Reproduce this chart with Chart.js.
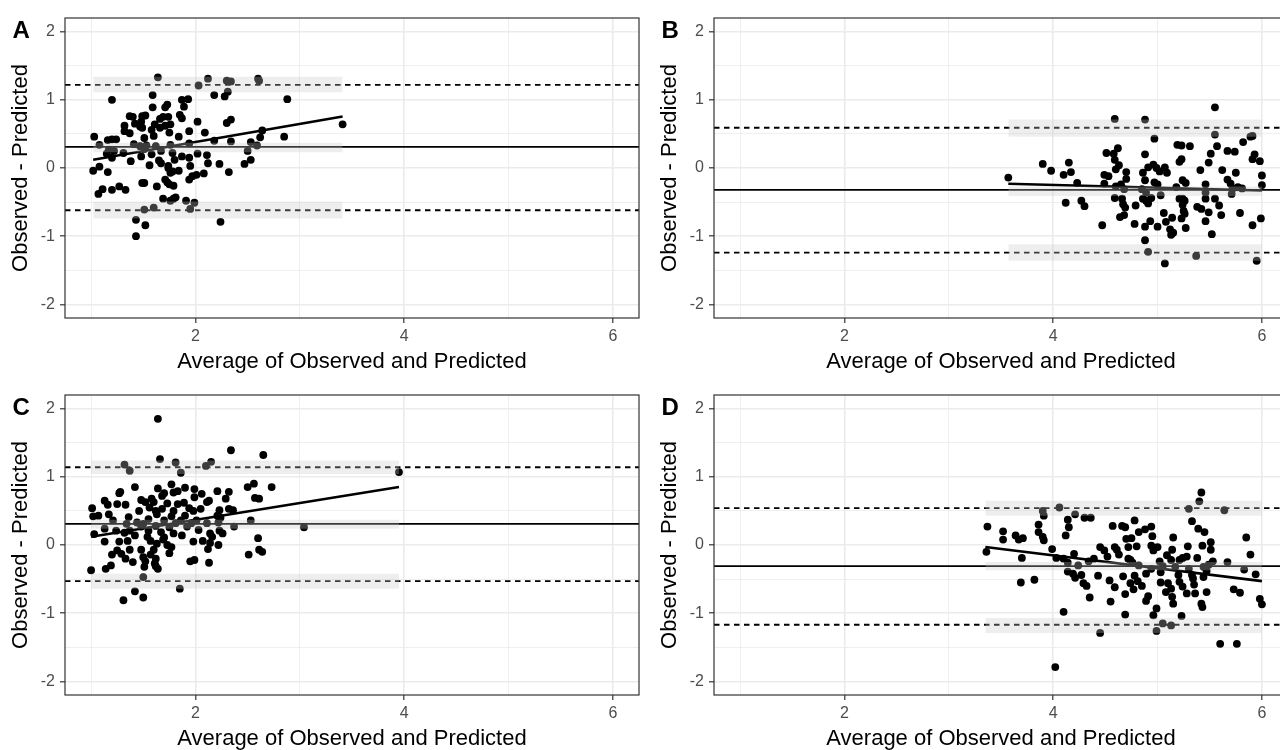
<!DOCTYPE html>
<html>
<head>
<meta charset="utf-8">
<script src="https://cdn.jsdelivr.net/npm/chart.js@4.4.1/dist/chart.umd.min.js"></script>
<style>
  html, body { margin: 0; padding: 0; background: #fff; overflow: hidden; width: 1280px; height: 750px; }
  .panel { position: absolute; width: 649px; height: 378px; }
</style>
</head>
<body>
<div class="panel" style="left:0;top:0"><canvas id="panelA" width="649" height="378"></canvas></div>
<div class="panel" style="left:649px;top:0"><canvas id="panelB" width="649" height="378"></canvas></div>
<div class="panel" style="left:0;top:377px"><canvas id="panelC" width="649" height="378"></canvas></div>
<div class="panel" style="left:649px;top:377px"><canvas id="panelD" width="649" height="378"></canvas></div>
<script>
// axis setup shared by the four panels
var xRange = [0.75, 6.25];
var yRange = [-2.2, 2.2];
var xTicks = [2, 4, 6];
var xGrid = [1, 2, 3, 4, 5, 6];
var yTicks = [-2, -1, 0, 1, 2];
var yGrid = [-2, -1.5, -1, -0.5, 0, 0.5, 1, 1.5, 2];
var xTitle = 'Average of Observed and Predicted';
var yTitle = 'Observed - Predicted';

// points: [average, difference]
var pointsA = [[1.64,1.33],[2.12,1.31],[2.30,1.28],[2.34,1.27],[2.60,1.31],[2.61,1.28],[2.03,1.21],[2.31,1.12],[1.59,1.07],[2.18,1.07],[2.28,1.05],[1.20,1.00],[2.88,1.01],[1.87,1.00],[1.93,1.01],[1.89,0.90],[1.73,0.93],[1.71,0.89],[1.59,0.89],[1.37,0.76],[1.40,0.75],[1.49,0.76],[1.52,0.77],[1.48,0.68],[1.66,0.72],[1.69,0.75],[1.74,0.75],[1.85,0.78],[1.87,0.73],[2.02,0.68],[2.34,0.71],[2.30,0.66],[1.32,0.62],[1.42,0.65],[1.47,0.61],[1.61,0.64],[1.71,0.62],[1.76,0.64],[3.41,0.64],[1.32,0.54],[1.49,0.59],[1.58,0.56],[1.66,0.59],[1.75,0.52],[1.94,0.54],[2.09,0.52],[2.64,0.55],[1.37,0.51],[1.03,0.46],[1.16,0.41],[1.20,0.42],[1.24,0.42],[1.51,0.44],[1.60,0.47],[1.84,0.46],[2.18,0.40],[2.34,0.39],[2.53,0.38],[2.62,0.45],[2.85,0.46],[1.08,0.34],[1.41,0.35],[1.47,0.32],[1.53,0.33],[1.62,0.32],[1.76,0.34],[1.94,0.36],[2.59,0.33],[1.17,0.27],[1.22,0.25],[1.51,0.28],[1.67,0.25],[1.15,0.21],[1.31,0.22],[1.78,0.22],[2.02,0.21],[2.11,0.19],[2.50,0.25],[1.20,0.15],[1.48,0.17],[1.58,0.20],[1.87,0.17],[1.94,0.15],[2.53,0.12],[1.38,0.10],[1.65,0.11],[1.80,0.12],[2.12,0.07],[2.47,0.06],[2.23,0.06],[1.56,0.04],[1.67,0.07],[1.74,0.03],[1.95,0.03],[1.02,-0.04],[1.08,0.02],[1.16,-0.06],[1.74,0.00],[1.78,-0.05],[1.84,-0.04],[2.32,-0.06],[2.08,-0.08],[1.76,-0.07],[2.01,-0.10],[1.97,-0.12],[1.94,-0.17],[1.71,-0.17],[1.73,-0.21],[1.75,-0.24],[1.79,-0.26],[1.49,-0.22],[1.51,-0.22],[1.63,-0.27],[1.27,-0.27],[1.20,-0.32],[1.33,-0.32],[1.11,-0.31],[1.07,-0.38],[1.69,-0.45],[1.79,-0.45],[1.81,-0.43],[1.76,-0.48],[1.91,-0.48],[1.99,-0.51],[1.51,-0.61],[1.60,-0.58],[1.95,-0.60],[1.43,-0.76],[1.52,-0.84],[2.24,-0.79],[1.43,-1.00]];
var limitsA = [-0.62, 0.31, 1.22];     // lower LoA, bias, upper LoA
var bandLowA = [-0.74, 0.23, 1.11];
var bandHighA = [-0.49, 0.37, 1.34];
var bandXA = [1.02, 3.41];
var fitXA = [1.02, 3.41];
var fitYA = [0.12, 0.755];

var pointsB = [[3.57,-0.14],[3.90,0.06],[3.98,-0.04],[4.10,-0.10],[4.15,0.08],[4.17,-0.06],[4.23,-0.22],[4.12,-0.51],[4.27,-0.48],[4.30,-0.56],[4.47,-0.84],[4.51,0.22],[4.59,0.72],[4.58,0.21],[4.62,0.29],[4.59,0.12],[4.63,0.04],[4.49,-0.10],[4.53,-0.12],[4.60,-0.02],[4.70,-0.06],[4.70,-0.16],[4.49,-0.23],[4.60,-0.27],[4.65,-0.24],[4.68,-0.31],[4.59,-0.44],[4.66,-0.45],[4.67,-0.53],[4.69,-0.58],[4.68,-0.69],[4.64,-0.72],[4.79,-0.55],[4.78,-0.82],[4.88,0.71],[4.88,0.20],[4.97,0.43],[4.86,-0.07],[4.91,0.01],[4.96,0.05],[4.99,0.00],[5.02,-0.05],[5.07,0.01],[5.09,-0.07],[4.88,-0.18],[4.97,-0.21],[5.00,-0.24],[4.85,-0.31],[4.89,-0.36],[4.86,-0.45],[4.89,-0.48],[4.94,-0.44],[4.91,-0.52],[5.03,-0.40],[5.06,-0.66],[4.93,-0.78],[4.88,-0.86],[5.00,-0.86],[4.88,-1.06],[4.91,-1.23],[5.07,-1.40],[5.08,-0.79],[5.14,-0.73],[5.15,-0.95],[5.13,-0.98],[5.12,-0.90],[5.19,0.34],[5.23,0.33],[5.31,0.32],[5.23,0.13],[5.21,0.09],[5.18,-0.28],[5.24,-0.18],[5.27,-0.22],[5.21,-0.45],[5.24,-0.45],[5.26,-0.48],[5.24,-0.54],[5.25,-0.63],[5.26,-0.67],[5.23,-0.74],[5.27,-0.88],[5.37,-1.29],[5.41,-0.03],[5.46,-0.24],[5.46,-0.36],[5.46,-0.45],[5.38,-0.57],[5.42,-0.60],[5.46,-0.78],[5.49,-0.65],[5.49,0.08],[5.51,0.21],[5.55,0.89],[5.55,0.49],[5.57,0.32],[5.52,-0.97],[5.55,-0.45],[5.59,-0.55],[5.61,-0.69],[5.62,-0.03],[5.67,0.25],[5.74,0.24],[5.67,-0.17],[5.70,-0.23],[5.72,-0.30],[5.75,-0.07],[5.77,-0.28],[5.71,-0.38],[5.81,-0.30],[5.79,-0.66],[5.82,0.38],[5.89,0.46],[5.91,0.47],[5.91,0.13],[5.93,0.20],[5.98,0.10],[6.00,-0.11],[6.00,-0.25],[5.99,-0.74],[5.91,-0.84],[5.95,-1.36]];
var limitsB = [-1.24, -0.32, 0.59];
var bandLowB = [-1.36, -0.41, 0.46];
var bandHighB = [-1.12, -0.27, 0.71];
var bandXB = [3.57, 6.0];
var fitXB = [3.57, 6.0];
var fitYB = [-0.23, -0.33];

var pointsC = [[1.64,1.85],[2.34,1.39],[2.65,1.32],[1.66,1.26],[1.32,1.18],[1.81,1.21],[2.15,1.22],[2.10,1.16],[1.37,1.09],[1.86,1.06],[3.95,1.07],[2.56,0.90],[2.50,0.85],[2.73,0.85],[1.42,0.85],[1.64,0.83],[1.77,0.89],[1.90,0.84],[1.99,0.82],[2.21,0.79],[2.32,0.78],[1.28,0.78],[1.27,0.76],[1.70,0.76],[1.79,0.77],[1.83,0.79],[2.06,0.75],[2.57,0.69],[2.61,0.68],[2.29,0.68],[1.99,0.70],[1.68,0.72],[1.58,0.68],[1.48,0.66],[1.13,0.65],[1.16,0.59],[1.25,0.60],[1.33,0.59],[1.52,0.63],[1.60,0.63],[1.73,0.61],[1.83,0.60],[1.89,0.62],[2.11,0.63],[2.13,0.65],[1.56,0.55],[1.68,0.53],[1.94,0.54],[1.01,0.54],[1.62,0.50],[1.46,0.50],[1.79,0.50],[1.98,0.50],[2.05,0.53],[2.23,0.51],[2.32,0.53],[2.36,0.51],[1.07,0.43],[1.02,0.42],[1.17,0.45],[1.63,0.45],[1.77,0.42],[1.90,0.43],[1.36,0.41],[1.55,0.38],[2.21,0.43],[2.24,0.40],[1.21,0.36],[1.70,0.36],[1.86,0.36],[2.01,0.36],[2.53,0.36],[1.34,0.31],[1.44,0.33],[1.50,0.31],[1.81,0.32],[1.96,0.32],[2.11,0.32],[2.22,0.33],[1.48,0.27],[1.62,0.28],[1.75,0.26],[1.92,0.27],[2.37,0.27],[3.04,0.26],[1.13,0.24],[1.24,0.21],[1.37,0.21],[1.55,0.21],[2.03,0.22],[2.23,0.21],[1.03,0.16],[1.32,0.18],[1.67,0.19],[1.79,0.17],[2.14,0.17],[2.26,0.17],[1.42,0.14],[1.54,0.12],[1.70,0.11],[1.87,0.14],[2.16,0.12],[1.13,0.05],[1.27,0.05],[1.35,0.06],[1.57,0.06],[1.69,0.08],[1.98,0.05],[2.07,0.06],[2.14,0.03],[1.73,0.00],[2.22,0.00],[1.63,0.02],[1.77,-0.03],[1.60,-0.07],[1.25,-0.08],[1.37,-0.07],[2.12,-0.06],[2.61,-0.07],[2.60,0.10],[2.64,-0.10],[1.48,-0.07],[1.20,-0.14],[1.29,-0.13],[1.57,-0.14],[1.75,-0.12],[2.51,-0.14],[1.33,-0.20],[1.50,-0.18],[1.62,-0.20],[1.40,-0.25],[1.52,-0.24],[1.95,-0.24],[1.99,-0.22],[2.13,-0.26],[1.61,-0.27],[1.19,-0.30],[1.51,-0.32],[1.62,-0.31],[1.64,-0.35],[1.14,-0.35],[1.00,-0.37],[1.50,-0.47],[1.85,-0.64],[1.42,-0.68],[1.31,-0.81],[1.50,-0.77]];
var limitsC = [-0.53, 0.31, 1.14];
var bandLowC = [-0.64, 0.24, 1.04];
var bandHighC = [-0.42, 0.37, 1.24];
var bandXC = [1.0, 3.95];
var fitXC = [1.0, 3.95];
var fitYC = [0.12, 0.85];

var pointsD = [[3.36,-0.10],[3.37,0.27],[3.52,0.20],[3.52,0.08],[3.64,0.14],[3.67,0.08],[3.71,0.10],[3.70,-0.19],[3.69,-0.55],[3.82,-0.51],[3.86,0.30],[3.86,0.19],[3.90,0.12],[3.91,0.07],[3.90,0.50],[3.91,0.43],[3.99,-0.06],[4.06,0.55],[4.03,-0.19],[4.02,-1.79],[4.10,-0.98],[4.12,0.14],[4.14,0.37],[4.15,0.26],[4.10,-0.20],[4.14,-0.26],[4.14,-0.39],[4.19,-0.42],[4.21,0.45],[4.20,-0.13],[4.21,-0.48],[4.30,0.40],[4.36,0.40],[4.24,-0.30],[4.27,-0.44],[4.29,-0.56],[4.32,-0.60],[4.35,-0.77],[4.34,-0.24],[4.39,-0.20],[4.43,-0.45],[4.45,-0.03],[4.49,-0.08],[4.52,-0.17],[4.54,-0.52],[4.55,-0.83],[4.57,0.28],[4.59,-0.62],[4.59,-0.03],[4.61,-0.07],[4.45,-1.29],[4.63,-0.14],[4.66,0.28],[4.69,0.26],[4.78,0.36],[4.70,0.09],[4.75,0.10],[4.80,-0.02],[4.82,0.19],[4.88,0.23],[4.94,0.27],[4.95,0.13],[4.72,-0.03],[4.72,-0.20],[4.67,-0.46],[4.69,-0.72],[4.69,-1.02],[4.74,-0.22],[4.76,-0.26],[4.78,-0.45],[4.74,-0.56],[4.77,-0.65],[4.81,-0.53],[4.85,-0.60],[4.82,-0.30],[4.89,-0.42],[4.94,-0.01],[4.96,-0.08],[5.00,-0.03],[4.94,-0.35],[4.91,-0.75],[4.89,-0.82],[4.96,-1.03],[4.99,-0.93],[4.99,-1.26],[5.05,-1.15],[5.13,-1.18],[5.02,-0.24],[5.03,-0.40],[5.05,-0.31],[5.09,-0.15],[5.03,-0.55],[5.08,-0.69],[5.10,-0.56],[5.13,-0.64],[5.14,-0.76],[5.15,-0.86],[5.14,-0.07],[5.15,0.11],[5.13,-0.22],[5.17,-0.32],[5.21,-0.22],[5.24,-0.19],[5.28,-0.17],[5.23,-1.04],[5.20,-0.44],[5.21,-0.54],[5.24,-0.61],[5.28,-0.71],[5.30,0.53],[5.33,0.35],[5.29,-0.02],[5.30,-0.35],[5.33,-0.44],[5.34,-0.49],[5.35,-0.58],[5.36,-0.71],[5.38,-0.19],[5.39,0.24],[5.40,0.64],[5.42,0.77],[5.45,0.19],[5.43,-0.01],[5.44,-0.32],[5.44,-0.47],[5.47,-0.38],[5.42,-0.86],[5.43,-0.91],[5.47,-0.69],[5.49,-0.29],[5.51,-0.07],[5.53,-0.24],[5.51,0.04],[5.64,0.51],[5.67,-0.25],[5.73,-0.65],[5.79,-0.70],[5.83,-0.36],[5.85,0.11],[5.89,-0.14],[5.94,-0.43],[5.98,-0.79],[6.00,-0.87],[5.60,-1.45],[5.76,-1.45]];
var limitsD = [-1.17, -0.31, 0.54];
var bandLowD = [-1.29, -0.37, 0.43];
var bandHighD = [-1.07, -0.25, 0.65];
var bandXD = [3.35, 6.0];
var fitXD = [3.35, 6.0];
var fitYD = [-0.03, -0.53];

var FONT = '"Liberation Sans", Arial, Helvetica, sans-serif';
Chart.defaults.font.family = FONT;

// panel frame and the panel letter
var panelDecor = {
  id: 'panelDecor',
  afterDraw: function(chart, args, opts) {
    var ctx = chart.ctx, a = chart.chartArea;
    ctx.save();
    ctx.strokeStyle = '#333333';
    ctx.lineWidth = 1.2;
    ctx.strokeRect(a.left, a.top, a.right - a.left, a.bottom - a.top);
    ctx.fillStyle = '#000';
    ctx.font = 'bold 24px ' + FONT;
    ctx.textBaseline = 'alphabetic';
    ctx.textAlign = 'left';
    ctx.fillText(opts.letter, 12.5, 37.7);
    ctx.restore();
  }
};

function isMajor(list, c) {
  return c.tick && list.indexOf(c.tick.value) !== -1;
}

function makePanel(id, letter, points, limits, bandLow, bandHigh, bandX, fitX, fitY) {
  var datasets = [];
  datasets.push({
    type: 'scatter',
    data: points.map(function(p) { return { x: p[0], y: p[1] }; }),
    pointRadius: 3.9,
    pointBackgroundColor: '#000',
    pointBorderWidth: 0,
    order: 3
  });
  // fitted regression line
  datasets.push({
    type: 'line',
    data: fitX.map(function(x, i) { return { x: x, y: fitY[i] }; }),
    borderColor: '#000',
    borderWidth: 2.6,
    pointRadius: 0,
    fill: false,
    order: 2
  });
  // bias (solid) and limits of agreement (dashed)
  limits.forEach(function(v, i) {
    datasets.push({
      type: 'line',
      data: [{ x: xRange[0], y: v }, { x: xRange[1], y: v }],
      borderColor: '#000',
      borderWidth: 1.8,
      borderDash: i === 1 ? [] : [5.5, 4.5],
      pointRadius: 0,
      fill: false,
      order: 1
    });
  });
  // confidence bands, drawn on top
  bandLow.forEach(function(lo, i) {
    datasets.push({
      type: 'line',
      data: bandX.map(function(x) { return { x: x, y: bandHigh[i] }; }),
      borderColor: 'rgba(0,0,0,0)',
      borderWidth: 0,
      pointRadius: 0,
      fill: { value: lo },
      backgroundColor: 'rgba(200,200,200,0.3)',
      order: 0
    });
  });

  new Chart(document.getElementById(id).getContext('2d'), {
    type: 'scatter',
    data: { datasets: datasets },
    plugins: [panelDecor],
    options: {
      responsive: false,
      animation: false,
      events: [],
      layout: { padding: { top: 18, right: 10, left: 0, bottom: 0 } },
      plugins: {
        legend: { display: false },
        tooltip: { enabled: false },
        panelDecor: { letter: letter }
      },
      scales: {
        x: {
          type: 'linear',
          min: xRange[0],
          max: xRange[1],
          afterBuildTicks: function(s) { s.ticks = xGrid.map(function(v) { return { value: v }; }); },
          afterFit: function(s) { s.height = 60; },
          border: { display: false },
          grid: {
            color: '#EBEBEB',
            lineWidth: function(c) { return isMajor(xTicks, c) ? 1.6 : 0.8; },
            tickColor: function(c) { return isMajor(xTicks, c) ? '#333333' : 'rgba(0,0,0,0)'; },
            tickLength: 5,
            tickWidth: 1.2
          },
          ticks: {
            autoSkip: false,
            maxRotation: 0,
            padding: 4,
            color: '#4D4D4D',
            font: { size: 16 },
            callback: function(v) { return xTicks.indexOf(v) !== -1 ? String(v) : ''; }
          },
          title: {
            display: true,
            text: xTitle,
            color: '#000',
            font: { size: 22 },
            padding: { top: 0, bottom: 3 }
          }
        },
        y: {
          type: 'linear',
          min: yRange[0],
          max: yRange[1],
          afterBuildTicks: function(s) { s.ticks = yGrid.map(function(v) { return { value: v }; }); },
          afterFit: function(s) { s.width = 65; },
          border: { display: false },
          grid: {
            color: '#EBEBEB',
            lineWidth: function(c) { return isMajor(yTicks, c) ? 1.6 : 0.8; },
            tickColor: function(c) { return isMajor(yTicks, c) ? '#333333' : 'rgba(0,0,0,0)'; },
            tickLength: 5,
            tickWidth: 1.2
          },
          ticks: {
            autoSkip: false,
            padding: 5,
            color: '#4D4D4D',
            font: { size: 16 },
            callback: function(v) { return yTicks.indexOf(v) !== -1 ? String(v) : ''; }
          },
          title: {
            display: true,
            text: yTitle,
            color: '#000',
            font: { size: 22 },
            padding: { top: 8, bottom: 0 }
          }
        }
      }
    }
  });
}

makePanel('panelA', 'A', pointsA, limitsA, bandLowA, bandHighA, bandXA, fitXA, fitYA);
makePanel('panelB', 'B', pointsB, limitsB, bandLowB, bandHighB, bandXB, fitXB, fitYB);
makePanel('panelC', 'C', pointsC, limitsC, bandLowC, bandHighC, bandXC, fitXC, fitYC);
makePanel('panelD', 'D', pointsD, limitsD, bandLowD, bandHighD, bandXD, fitXD, fitYD);
</script>
</body>
</html>
